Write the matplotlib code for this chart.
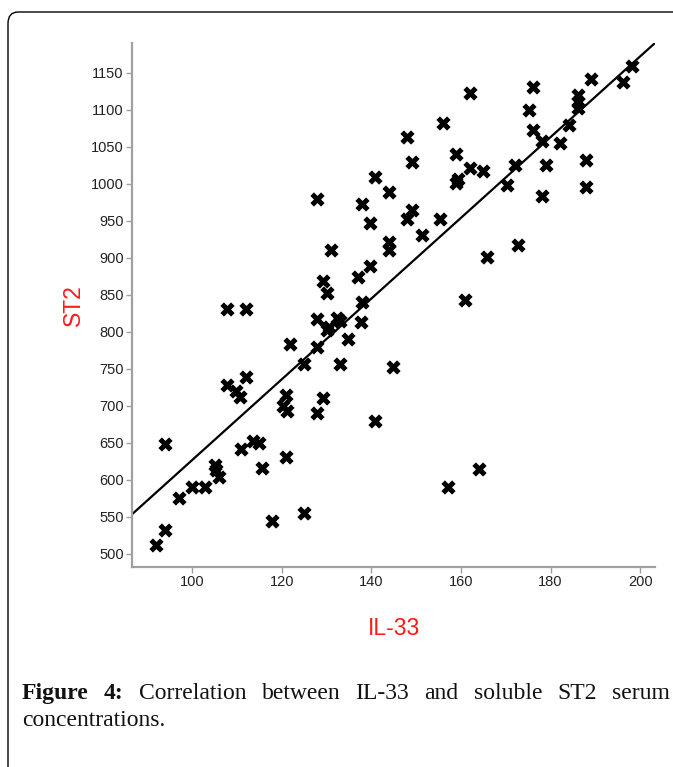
import numpy as np
import matplotlib
matplotlib.use('Agg')
import matplotlib.pyplot as plt
from matplotlib.patches import FancyBboxPatch

plt.rcParams['font.family'] = ['Liberation Sans', 'DejaVu Sans']

# values
il33 = [91.9, 93.9, 93.9, 97.0, 100.0, 102.8, 105.1, 105.4, 106.0, 107.9,
        112.1, 107.9, 109.9, 110.6, 112.0, 110.9, 113.6, 115.0, 115.7, 117.9,
        120.3, 121.0, 121.2, 120.9, 121.8, 125.0, 125.0, 127.8, 129.2, 127.8,
        127.8, 130.0, 130.5, 133.0, 134.8, 132.4, 133.0, 129.2, 130.0, 138.0,
        137.6, 127.8, 131.1, 138.0, 140.8, 143.9, 139.8, 143.9, 143.9, 139.8,
        137.0, 144.9, 140.8, 162.1, 176.1, 175.2, 156.0, 147.9, 149.0, 159.0,
        162.0, 165.0, 159.4, 159.0, 172.0, 170.2, 176.1, 178.0, 182.1, 184.0,
        178.9, 178.0, 186.2, 186.2, 186.2, 189.1, 196.2, 198.1, 188.0, 188.0,
        155.3, 151.2, 147.9, 149.0, 172.8, 165.8, 160.9, 164.0, 157.1]
st2 = [512, 533, 648, 575, 590, 591, 620, 613, 604, 831,
       831, 728, 720, 712, 739, 642, 652, 650, 616, 544,
       700, 714, 693, 631, 783, 756, 555, 690, 710, 779,
       817, 802, 807, 756, 790, 818, 814, 868, 853, 840,
       813, 979, 911, 972, 1009, 989, 947, 921, 911, 889,
       874, 753, 679, 1122, 1131, 1099, 1082, 1063, 1029, 1040,
       1021, 1017, 1007, 1001, 1025, 998, 1072, 1057, 1055, 1079,
       1025, 984, 1120, 1111, 1102, 1141, 1138, 1159, 1032, 996,
       953, 931, 953, 964, 917, 901, 843, 615, 591]

# regression line end points
fit_x = [86.6, 203.3]
fit_y = [553.6, 1190]

xticks = [100, 120, 140, 160, 180, 200]
yticks = list(range(500, 1151, 50))

caption_words = ['Figure', '4:', 'Correlation', 'between', 'IL-33', 'and',
                 'soluble', 'ST2', 'serum']
caption_bold = [True, True, False, False, False, False, False, False, False]
caption_line2 = 'concentrations.'

W, H = 673, 767
fig = plt.figure(figsize=(W / 100, H / 100), dpi=100)

# rounded frame around the figure (right/bottom run off the page)
frame = FancyBboxPatch((8 / W, -0.05), 1.2, 1 - 12 / H + 0.05,
                       boxstyle='round,pad=0,rounding_size=0.015',
                       transform=fig.transFigure, fill=False,
                       edgecolor='black', linewidth=1.0)
fig.patches.append(frame)

ax = fig.add_axes([132 / W, 1 - 567 / H, (655 - 132) / W, (567 - 43) / H])
ax.scatter(il33, st2, marker='X', s=105, color='black', linewidths=0, zorder=3)
ax.plot(fit_x, fit_y, color='black', linewidth=1.6, zorder=2)

ax.set_xlim(86.6, 203.3)
ax.set_ylim(482.4, 1190)
ax.set_xticks(xticks)
ax.set_yticks(yticks)
for s in ['top', 'right']:
    ax.spines[s].set_visible(False)
for s in ['left', 'bottom']:
    ax.spines[s].set_color('#a0a0a0')
    ax.spines[s].set_linewidth(1.6)
ax.tick_params(colors='#a0a0a0', labelcolor='#222222', length=4, width=1,
               labelsize=10.5, pad=2)

ax.set_xlabel('IL-33', color='#ff1a1a', fontsize=16.5, labelpad=20)
ax.set_ylabel('ST2', color='#ff1a1a', fontsize=16.5, labelpad=4)

# caption, first line justified between left and right margins
left, right = 22, 670
texts = []
for word, bold in zip(caption_words, caption_bold):
    texts.append(fig.text(0, 1 - 699 / H, word, fontsize=17,
                          family='Liberation Serif',
                          weight='bold' if bold else 'normal',
                          color='#111111', ha='left', va='baseline'))
renderer = fig.canvas.get_renderer()
widths = [t.get_window_extent(renderer).width for t in texts]
gap = (right - left - sum(widths)) / (len(texts) - 1)
x = left
for t, w in zip(texts, widths):
    t.set_x(x / W)
    x += w + gap
fig.text(left / W, 1 - 726 / H, caption_line2, fontsize=17,
         family='Liberation Serif', color='#111111', ha='left', va='baseline')

fig.savefig('out.png', dpi=100)
